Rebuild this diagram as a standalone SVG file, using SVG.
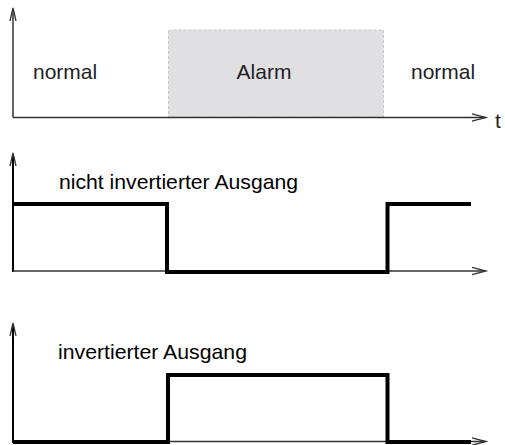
<svg xmlns="http://www.w3.org/2000/svg" width="505" height="445" viewBox="0 0 505 445">
<style>
  text { font-family: "Liberation Sans", Arial, sans-serif; font-size: 21px; }
  .lbl { fill: #222; }
  .ax { fill: none; stroke: #333; stroke-width: 1.5; }
  .axb { fill: none; stroke: #000; stroke-width: 2; }
  .head { fill: none; stroke: #333; stroke-width: 1.3; stroke-linejoin: miter; }
  .sig { fill: none; stroke: #000; stroke-width: 4; stroke-linejoin: miter; stroke-linecap: butt; }
</style>
<rect width="505" height="445" fill="#fff"/>

<g id="alarm-zone">
  <rect x="168.5" y="30" width="215" height="87" fill="#e0e0e2" stroke="#c9c9c9" stroke-width="1" stroke-dasharray="3,2"/>
  <text class="lbl" x="264" y="79" text-anchor="middle">Alarm</text>
</g>
<g id="normal-left"><text class="lbl" x="33" y="79">normal</text></g>
<g id="normal-right"><text class="lbl" x="411" y="79">normal</text></g>

<g id="connectors">
  <!-- top chart axes -->
  <line class="ax" x1="13" y1="10" x2="13" y2="117.5"/>
  <line class="ax" x1="13" y1="117.5" x2="485" y2="117.5"/>
  <polyline class="head" points="10,21 13,8 16,21"/>
  <polyline class="head" points="472,113.8 486,117.5 472,121.2"/>

  <!-- middle chart axes -->
  <line class="axb" x1="13" y1="155" x2="13" y2="272"/>
  <line class="ax" x1="13" y1="271" x2="485" y2="271"/>
  <polyline class="head" points="10,166 13,153 16,166"/>
  <polyline class="head" points="472,267.3 486,271 472,274.7"/>

  <!-- bottom chart axes -->
  <line class="axb" x1="13" y1="325" x2="13" y2="443"/>
  <line class="ax" x1="13" y1="441.5" x2="485" y2="441.5"/>
  <polyline class="head" points="10,336 13,323 16,336"/>
  <polyline class="head" points="472,437.8 486,441.5 472,445.2"/>
</g>

<g id="signal-normal">
  <polyline class="sig" points="13,204 167,204 167,272 387.5,272 387.5,204 471,204"/>
  <text x="59" y="189" textLength="239" lengthAdjust="spacingAndGlyphs">nicht invertierter Ausgang</text>
</g>

<g id="signal-inverted">
  <polyline class="sig" points="13,442 168,442 168,375 387.5,375 387.5,442 471,442"/>
  <text x="58" y="359" textLength="189" lengthAdjust="spacingAndGlyphs">invertierter Ausgang</text>
</g>

<g id="t-label"><text class="lbl" x="495" y="128">t</text></g>
</svg>
